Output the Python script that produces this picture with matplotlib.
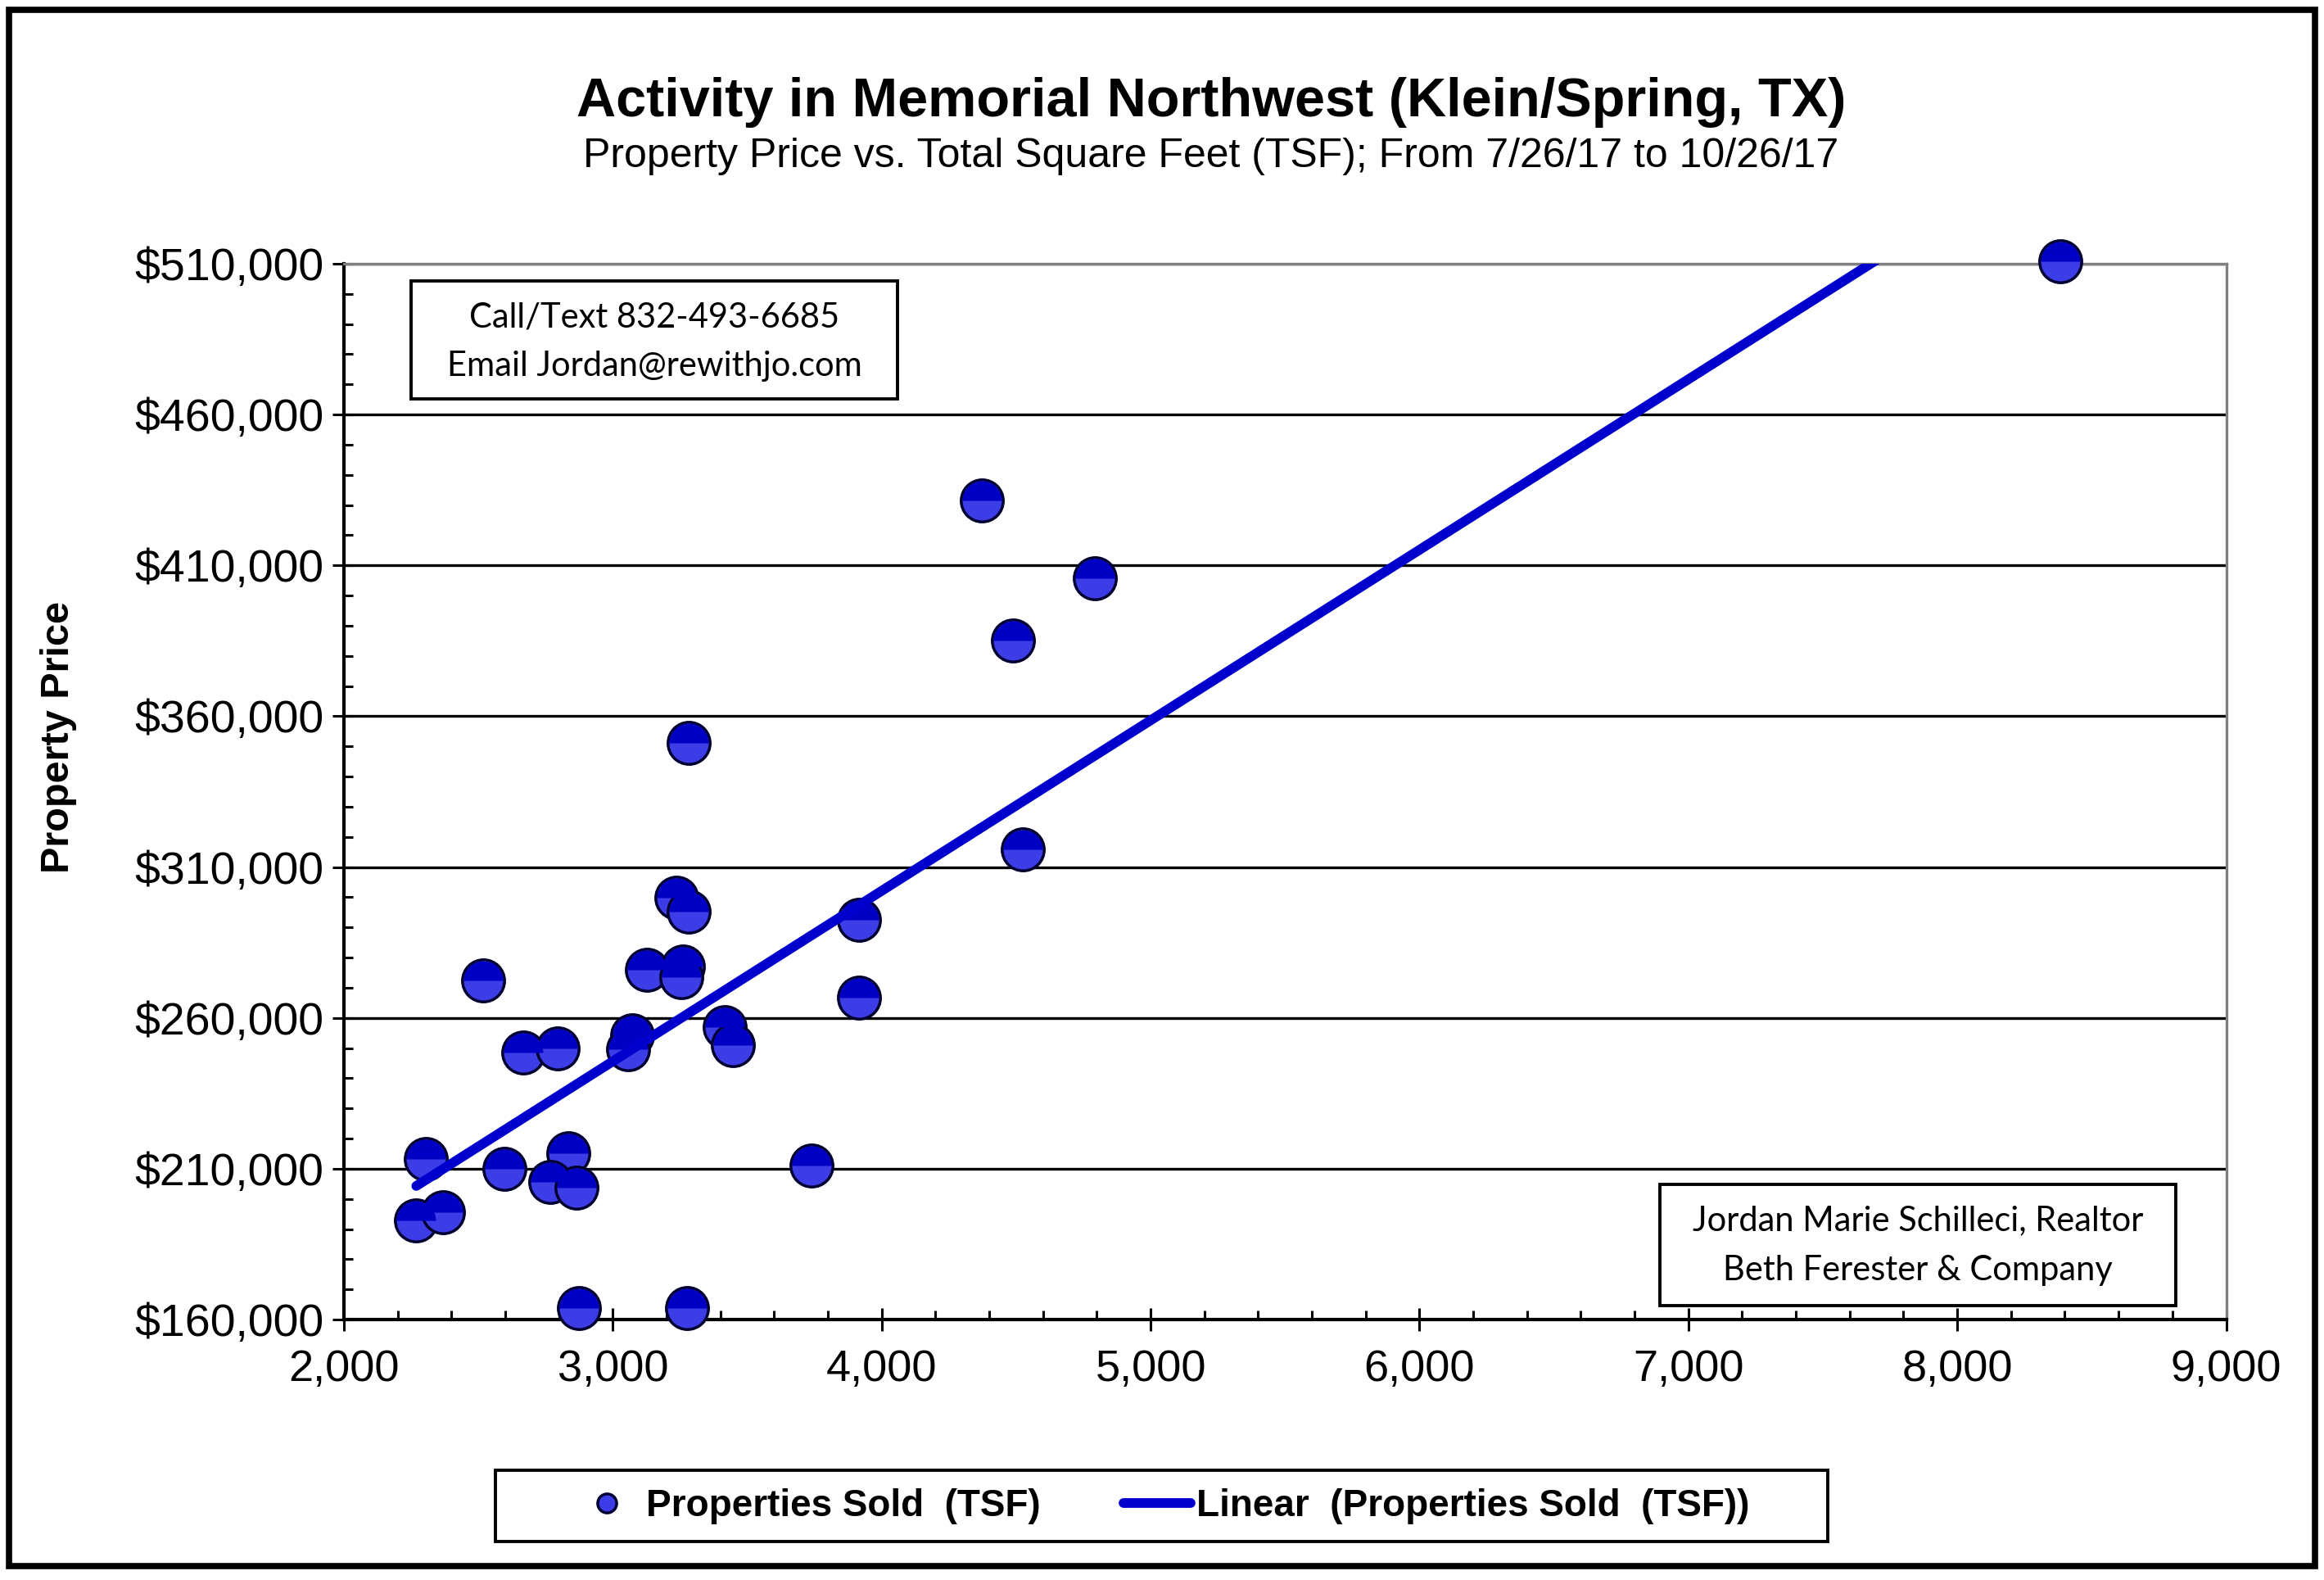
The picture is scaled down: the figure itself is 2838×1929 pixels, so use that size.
import matplotlib.pyplot as plt
import numpy as np
from matplotlib.patches import Rectangle
from matplotlib.ticker import MultipleLocator, FixedLocator, FuncFormatter

plt.rcParams['font.family'] = ['Liberation Sans', 'DejaVu Sans']

# total square feet and sale price of each property sold
sqft = [8382, 4372, 4792, 4487, 3281, 4525, 3237, 3283, 3916, 2517,
        3126, 3260, 3254, 3916, 2668, 2796, 3073, 3056, 3417, 3446,
        2304, 2596, 2834, 2768, 2864, 3738, 2269, 2368, 2873, 3277]
price = [510700, 431400, 405600, 385200, 351100, 315950, 299900, 295200, 292430, 272300,
         275980, 277000, 273400, 266630, 248400, 249800, 254200, 249500, 256800, 251000,
         213100, 210000, 215200, 205500, 203800, 210950, 192900, 195500, 163800, 163800]

# linear trend line (price per sqft, intercept)
trend_slope = 56.52
trend_intercept = 76039

title = 'Activity in Memorial Northwest (Klein/Spring, TX)'
subtitle = 'Property Price vs. Total Square Feet (TSF); From 7/26/17 to 10/26/17'
contact_lines = ['Call/Text 832-493-6685', 'Email Jordan@rewithjo.com']
agent_lines = ['Jordan Marie Schilleci, Realtor', 'Beth Ferester & Company']

W, H = 2838, 1929
fig = plt.figure(figsize=(W / 100, H / 100), dpi=100)


def px_box(x0, y0, x1, y1):
    # pixel box (top-left origin) -> figure fraction rect
    return [x0 / W, 1 - y1 / H, (x1 - x0) / W, (y1 - y0) / H]


ax = fig.add_axes(px_box(420, 322, 2718.5, 1611))

# lighter full circle + darker top half, a rough take on the shaded spheres
ax.plot(sqft, price, 'o', ls='none', ms=37, markerfacecolor='#3d3de8',
        markeredgecolor='#000030', markeredgewidth=2.5, zorder=3, clip_on=False,
        label='Properties Sold  (TSF)')
ax.plot(sqft, price, 'o', ls='none', ms=34.5, fillstyle='top', markerfacecolor='#0000c4',
        markeredgewidth=0, zorder=3.1, clip_on=False)

xs = np.array([min(sqft), max(sqft)])
ax.plot(xs, trend_slope * xs + trend_intercept, color='#0000cc', lw=8.5,
        solid_capstyle='round', zorder=4, label='Linear  (Properties Sold  (TSF))')

ax.set_xlim(2000, 9000)
ax.set_ylim(160000, 510000)
ax.xaxis.set_major_locator(MultipleLocator(1000))
ax.xaxis.set_minor_locator(MultipleLocator(200))
ax.yaxis.set_major_locator(FixedLocator(np.arange(160000, 510001, 50000)))
ax.yaxis.set_minor_locator(FixedLocator(np.arange(160000, 510001, 10000)))
ax.xaxis.set_major_formatter(FuncFormatter(lambda v, p: f'{v:,.0f}'))
ax.yaxis.set_major_formatter(FuncFormatter(lambda v, p: f'${v:,.0f}'))

ax.grid(axis='y', which='major', color='black', lw=2.4)
ax.set_axisbelow(True)
for s in ['left', 'bottom']:
    ax.spines[s].set_linewidth(3)
    ax.spines[s].set_color('black')
for s in ['top', 'right']:
    ax.spines[s].set_linewidth(2.4)
    ax.spines[s].set_color('#808080')

ax.tick_params(axis='both', which='major', direction='inout', length=20, width=2.2,
               colors='black')
ax.tick_params(axis='both', which='minor', direction='in', length=8, width=2.2)
ax.tick_params(axis='y', which='major', pad=8, labelsize=40)
ax.tick_params(axis='x', which='major', pad=16, labelsize=39)

fig.text(1479 / W, 1 - 125 / H, title, ha='center', va='center', fontsize=48, fontweight='bold')
fig.text(1479 / W, 1 - 191 / H, subtitle, ha='center', va='center', fontsize=36)
fig.text(72 / W, 1 - 900 / H, 'Property Price', rotation=90, ha='center', va='center',
         fontsize=35, fontweight='bold')

# contact box, agent box, legend box and outer frame
boxes = [(502, 343, 1096, 487), (2027, 1446, 2657, 1594), (605, 1795, 2232, 1882)]
for b in boxes:
    r = px_box(*b)
    fig.patches.append(Rectangle((r[0], r[1]), r[2], r[3], transform=fig.transFigure,
                                 fill=False, edgecolor='black', lw=2.8, zorder=5))
fr = px_box(11, 12, 2827, 1912)
fig.patches.append(Rectangle((fr[0], fr[1]), fr[2], fr[3], transform=fig.transFigure,
                             fill=False, edgecolor='black', lw=5.5))

for txt, yy in zip(contact_lines, [388, 447]):
    fig.text(799 / W, 1 - yy / H, txt, ha='center', va='center', fontsize=30, family='Lato')
for txt, yy in zip(agent_lines, [1490, 1551]):
    fig.text(2342 / W, 1 - yy / H, txt, ha='center', va='center', fontsize=30, family='Lato')

fig.legend(loc='center', bbox_to_anchor=(1418 / W, 1 - 1839 / H), ncol=2, frameon=False,
           prop={'weight': 'bold', 'size': 33}, markerscale=0.45, handlelength=1.8,
           handletextpad=0.15, columnspacing=2.2)

fig.savefig('out.png', dpi=100, facecolor='white')
